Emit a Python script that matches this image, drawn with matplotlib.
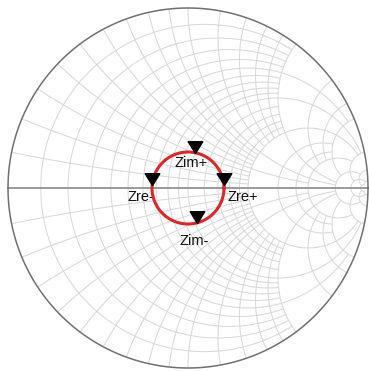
import numpy as np
import matplotlib
matplotlib.use("Agg")
import matplotlib.pyplot as plt
from matplotlib.path import Path

# Smith chart grid: constant-resistance circles and the reactance range they span
resistance_values = [0.1, 0.2, 0.3, 0.4, 0.5, 0.6, 0.7, 0.8, 0.9, 1.0,
                     1.2, 1.4, 1.6, 1.8, 2.0, 3.0, 4.0, 5.0, 10.0, 20.0, 50.0]
resistance_xmax = [2, 2, 2, 2, 5, 2, 2, 2, 2, 10,
                   2, 2, 2, 2, 10, 5, 5, 10, 20, 50, 50]

# constant-reactance arcs and the resistance range they span
reactance_values = [0.1, 0.2, 0.3, 0.4, 0.5, 0.6, 0.7, 0.8, 0.9, 1.0,
                    1.2, 1.4, 1.6, 1.8, 2.0, 3.0, 4.0, 5.0, 10.0, 20.0, 50.0]
reactance_rmax = [2, 2, 2, 2, 5, 2, 2, 2, 2, 10,
                  2, 2, 2, 2, 10, 5, 5, 10, 20, 50, 50]

# measured trace: reflection coefficient magnitude and marker angles (deg)
trace_magnitude = 0.2
marker_angles = [78, 175, 5, -76]
marker_labels = ["Zim+", "Zre-", "Zre+", "Zim-"]


def gamma(z):
    return (z - 1) / (z + 1)


fig = plt.figure(figsize=(3.69, 3.71), dpi=100)
ax = fig.add_axes([0, 0, 1, 1])
ax.set_xlim(-188 / 180, 181 / 180)
ax.set_ylim(-183 / 180, 188 / 180)
ax.axis("off")

grid_kw = dict(color="#d9d9d9", lw=0.75, zorder=1)

for r, xmax in zip(resistance_values, resistance_xmax):
    x = np.tan(np.linspace(-np.arctan(xmax), np.arctan(xmax), 600))
    g = gamma(r + 1j * x)
    ax.plot(g.real, g.imag, **grid_kw)

for xv, rmax in zip(reactance_values, reactance_rmax):
    r = np.tan(np.linspace(0, np.arctan(rmax), 600))
    for s in (1, -1):
        g = gamma(r + 1j * s * xv)
        ax.plot(g.real, g.imag, **grid_kw)

# outer boundary and real axis
t = np.linspace(0, 2 * np.pi, 800)
ax.plot(np.cos(t), np.sin(t), color="#707070", lw=1.1, zorder=3)
ax.plot([-1, 1], [0, 0], color="#9a9a9a", lw=1.4, zorder=2)

# trace
ax.plot(trace_magnitude * np.cos(t), trace_magnitude * np.sin(t),
        color="#e0262a", lw=2.2, zorder=5)

# down-pointing triangle with its tip at the data point
tri = Path([(-0.62, 1.0), (0.62, 1.0), (0.0, 0.0), (-0.62, 1.0)],
           [Path.MOVETO, Path.LINETO, Path.LINETO, Path.CLOSEPOLY])
ang = np.deg2rad(marker_angles)
mx = trace_magnitude * np.cos(ang)
my = trace_magnitude * np.sin(ang)
ax.plot(mx, my, linestyle="none", marker=tri, markersize=17,
        color="black", zorder=6)

label_offsets = [(-0.022, -0.058), (0.012, -0.067), (0.02, -0.067), (-0.012, -0.10)]
label_align = ["center", "right", "left", "center"]
for lx, ly, text, (dx, dy), ha in zip(mx, my, marker_labels, label_offsets, label_align):
    ax.text(lx + dx, ly + dy, text, ha=ha, va="center", fontsize=10.5,
            family="Liberation Sans", color="#111111", zorder=4)

fig.savefig("out.png", dpi=100)
